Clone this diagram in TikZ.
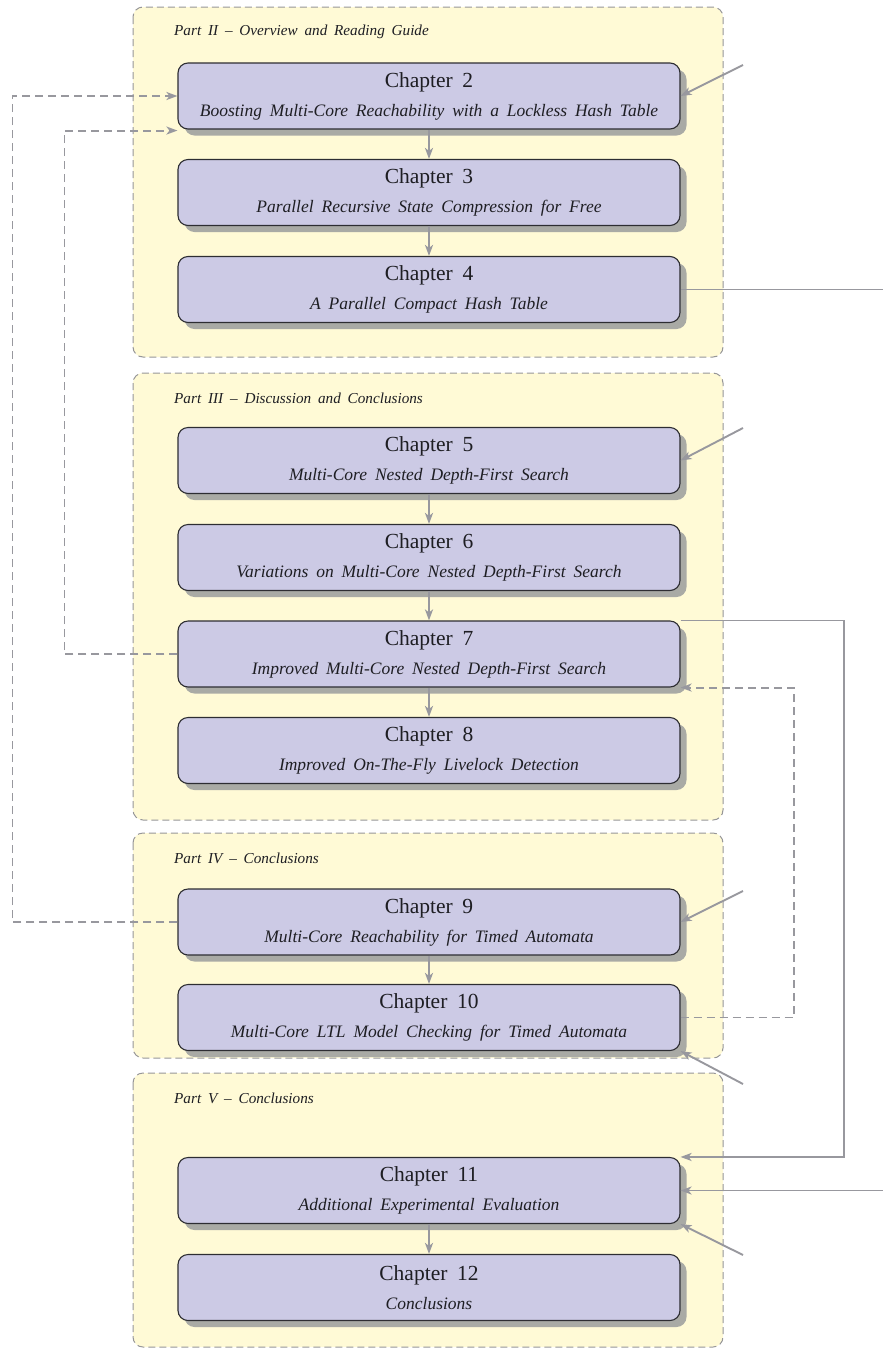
\documentclass[tikz,border=0pt]{standalone}
\usepackage{fontspec}
\setmainfont{Liberation Serif}[WordSpace=1.8]
\usetikzlibrary{arrows.meta,shadows}

\definecolor{partfill}{RGB}{255,250,214}
\definecolor{partline}{RGB}{150,150,152}
\definecolor{boxfill}{RGB}{204,202,229}
\definecolor{boxline}{RGB}{45,45,50}
\definecolor{shadowcol}{RGB}{169,170,165}
\definecolor{linkcol}{RGB}{152,152,158}
\definecolor{textcol}{RGB}{30,30,35}

\tikzset{
  partbox/.style={draw=partline, line width=1pt, dash pattern=on 7pt off 4pt,
    fill=partfill, rounded corners=10pt},
  partlabel/.style={anchor=base west, inner sep=0pt, text=textcol,
    font=\fontsize{15.2}{18}\selectfont\itshape},
  chap/.style={draw=boxline, line width=1.1pt, fill=boxfill, rounded corners=10pt,
    minimum width=502pt, minimum height=66pt, align=center, inner sep=0pt,
    text=textcol, font=\fontsize{21.5}{29}\selectfont,
    drop shadow={shadow xshift=6.5pt, shadow yshift=-6.5pt, fill=shadowcol, opacity=1}},
  link/.style={draw=linkcol, line width=1.9pt},
  arr/.style={link, -{Stealth[length=11pt,width=8pt,inset=3pt]}},
  darr/.style={arr, dash pattern=on 8pt off 5pt},
}
\newcommand{\subt}[1]{{\fontsize{17.5}{29}\selectfont\itshape #1}}

\begin{document}
\begin{tikzpicture}[x=1pt,y=-1pt]
\useasboundingbox (0,0) rectangle (883,1350);

% parts
\draw[partbox] (133,7) rectangle (723,357);
\draw[partbox] (133,373) rectangle (723,820);
\draw[partbox] (133,833) rectangle (723,1058);
\draw[partbox] (133,1073) rectangle (723,1347);

\node[partlabel] (l2) at (174,35) {Part II – Overview and Reading Guide};
\node[partlabel] (l3) at (174,403) {Part III – Discussion and Conclusions};
\node[partlabel] (l4) at (174,863) {Part IV – Conclusions};
\node[partlabel] (l5) at (174,1103) {Part V – Conclusions};

% chapters
\node[chap] (c2) at (429,96) {Chapter 2\\\subt{Boosting Multi-Core Reachability with a Lockless Hash Table}};
\node[chap] (c3) at (429,192.5) {Chapter 3\\\subt{Parallel Recursive State Compression for Free}};
\node[chap] (c4) at (429,289.5) {Chapter 4\\\subt{A Parallel Compact Hash Table}};
\node[chap] (c5) at (429,460.5) {Chapter 5\\\subt{Multi-Core Nested Depth-First Search}};
\node[chap] (c6) at (429,557.5) {Chapter 6\\\subt{Variations on Multi-Core Nested Depth-First Search}};
\node[chap] (c7) at (429,654) {Chapter 7\\\subt{Improved Multi-Core Nested Depth-First Search}};
\node[chap] (c8) at (429,750.5) {Chapter 8\\\subt{Improved On-The-Fly Livelock Detection}};
\node[chap] (c9) at (429,922) {Chapter 9\\\subt{Multi-Core Reachability for Timed Automata}};
\node[chap] (c10) at (429,1017.5) {Chapter 10\\\subt{Multi-Core LTL Model Checking for Timed Automata}};
\node[chap] (c11) at (429,1190.5) {Chapter 11\\\subt{Additional Experimental Evaluation}};
\node[chap] (c12) at (429,1287.5) {Chapter 12\\\subt{Conclusions}};

% reading order inside parts
\draw[arr] (c2) -- (c3);
\draw[arr] (c3) -- (c4);
\draw[arr] (c5) -- (c6);
\draw[arr] (c6) -- (c7);
\draw[arr] (c7) -- (c8);
\draw[arr] (c9) -- (c10);
\draw[arr] (c11) -- (c12);

% dependencies across parts
\draw[darr] (c9.west) -- ++(-165,0) |- (c2.west);
\draw[darr] (c7.west) -- ++(-113,0) |- ([yshift=-1pt]c2.south west);
\draw[arr] (c7.north east) -- ++(163,0) |- (c11.north east);
\draw[darr] (c10.east) -- ++(113,0) |- (c7.south east);

% links leaving or entering from outside
\coordinate (o4) at (883,289.5);
\coordinate (i2) at (743,65);
\coordinate (i5) at (743,428);
\coordinate (i9) at (743,891);
\coordinate (i10) at (743,1084);
\coordinate (i11a) at (883,1190.5);
\coordinate (i11b) at (743,1255);
\draw[link] (c4.east) -- (o4);
\draw[arr] (i2) -- (c2.east);
\draw[arr] (i5) -- (c5.east);
\draw[arr] (i9) -- (c9.east);
\draw[arr] (i10) -- (c10.south east);
\draw[arr] (i11a) -- (c11.east);
\draw[arr] (i11b) -- (c11.south east);
\end{tikzpicture}
\end{document}
